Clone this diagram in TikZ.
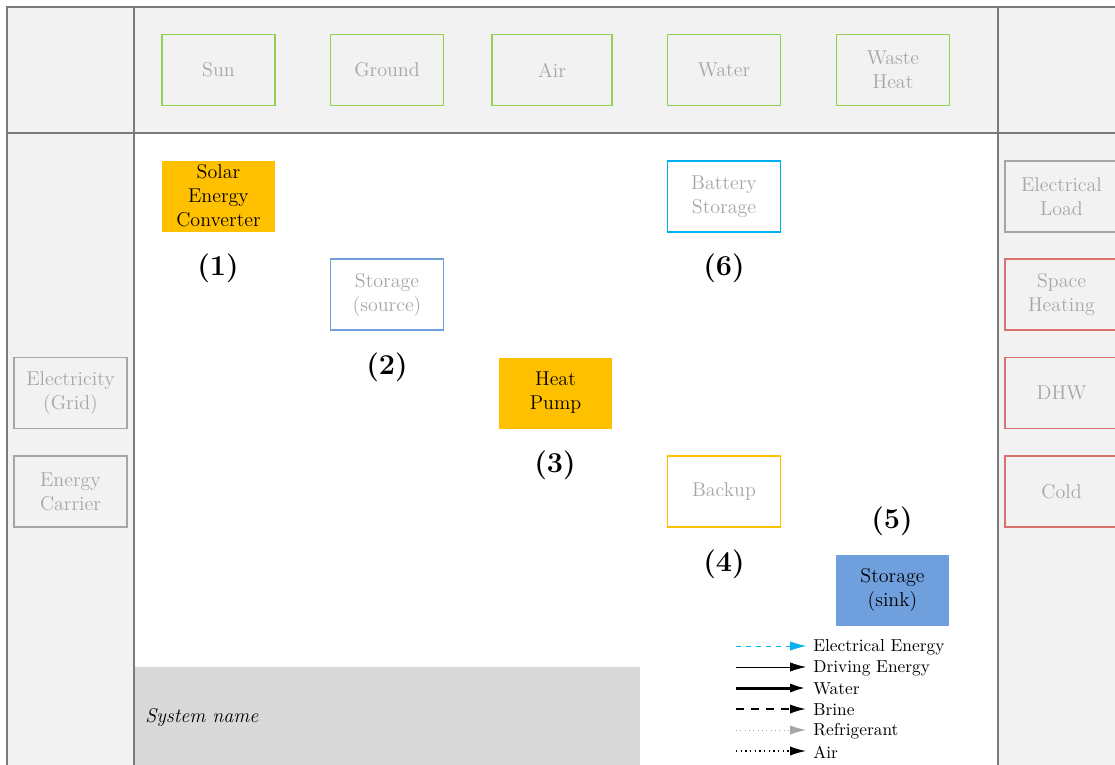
\documentclass[tikz,border=0pt]{standalone}
\usetikzlibrary{arrows.meta}
\definecolor{panel}{HTML}{F2F2F2}
\definecolor{framegray}{HTML}{7A7A7A}
\definecolor{labelgray}{HTML}{A6A6A6}
\definecolor{srcgreen}{HTML}{92D050}
\definecolor{hpyellow}{HTML}{FFC000}
\definecolor{stblue}{HTML}{6F9FDC}
\definecolor{elcyan}{HTML}{00B0F0}
\definecolor{sinkred}{HTML}{D9716C}
\definecolor{namegray}{HTML}{D9D9D9}
\tikzset{
  comp/.style={rectangle, minimum width=67.8pt, minimum height=42.6pt, align=center,
    font=\fontsize{12}{14.4}\selectfont, text=labelgray, line width=1pt, inner sep=1pt},
  source/.style={comp, draw=srcgreen},
  grid/.style={comp, draw=labelgray},
  sink/.style={comp, draw=sinkred},
  active/.style={comp, fill=hpyellow, text=black, draw=none},
  storesrc/.style={comp, draw=stblue},
  storesink/.style={comp, fill=stblue, text=black, draw=none},
  battery/.style={comp, draw=elcyan},
  backup/.style={comp, draw=hpyellow},
  num/.style={font=\LARGE\bfseries},
  tip/.style={-{Latex[length=9.5pt,width=5.5pt]}},
  legtext/.style={anchor=west, font=\fontsize{10.4}{12}\selectfont, inner sep=0pt}
}
\begin{document}
\begin{tikzpicture}[x=0.6pt, y=-0.6pt]
\useasboundingbox (0,0) rectangle (1115,765);
\clip (0,0) rectangle (1115,765);
% panels
\fill[panel] (7,7) rectangle (1140,790);
\fill[white] (134,133) rectangle (998,790);
\fill[namegray] (134,667) rectangle (640,790);
\draw[framegray, line width=0.7pt] (7,790) -- (7,7) -- (1140,7);
\draw[framegray, line width=0.7pt] (7,133) -- (1140,133);
\draw[framegray, line width=0.7pt] (134,7) -- (134,790);
\draw[framegray, line width=0.7pt] (998,7) -- (998,790);
% sources
\node[source] (sun) at (218.5,70) {Sun};
\node[source] (ground) at (387,70) {Ground};
\node[source, minimum width=72pt] (air) at (552,70) {Air};
\node[source] (water) at (724,70) {Water};
\node[source] (waste) at (893,70) {Waste\\Heat};
% grid supply
\node[grid] (elgrid) at (70.5,393) {Electricity\\(Grid)};
\node[grid] (carrier) at (70.5,491.5) {Energy\\Carrier};
% loads
\node[grid] (elload) at (1061.5,196.5) {Electrical\\Load};
\node[sink] (sh) at (1061.5,294.5) {Space\\Heating};
\node[sink] (dhw) at (1061.5,393) {DHW};
\node[sink] (cold) at (1061.5,491.5) {Cold};
% components
\node[active] (solar) at (218.5,196) {Solar\\Energy\\Converter};
\node[storesrc] (stsrc) at (387,294.5) {Storage\\(source)};
\node[active] (hp) at (555.5,393) {Heat\\Pump};
\node[battery] (bat) at (724,196.5) {Battery\\Storage};
\node[backup] (bu) at (724,491.5) {Backup};
\node[storesink] (stsink) at (892.5,590) {Storage\\(sink)};
% numbering
\node[num] (n1) at (218,268) {(1)};
\node[num] (n2) at (387,367) {(2)};
\node[num] (n3) at (555,465) {(3)};
\node[num] (n4) at (724,564) {(4)};
\node[num] (n5) at (892,521) {(5)};
\node[num] (n6) at (724,268) {(6)};
% system name
\node[anchor=west, inner sep=0pt, font=\fontsize{12}{14.4}\itshape] (sysname) at (145,717) {System name};
% legend
\foreach \i/\y in {1/646,2/667,3/688,4/709,5/730,6/751}{
  \coordinate (ls\i) at (736,\y);
  \coordinate (le\i) at (806,\y);
}
\draw[tip, elcyan, dashed, line width=0.4pt] (ls1) -- (le1);
\draw[tip, black, line width=0.4pt] (ls2) -- (le2);
\draw[tip, black, line width=1.8pt] (ls3) -- (le3);
\draw[tip, black, line width=1.1pt, dash pattern=on 5pt off 4pt] (ls4) -- (le4);
\draw[tip, labelgray, dotted, line width=0.6pt] (ls5) -- (le5);
\draw[tip, black, dotted, line width=0.8pt] (ls6) -- (le6);
\node[legtext] (l1) at (813,647) {Electrical Energy};
\node[legtext] (l2) at (813,668) {Driving Energy};
\node[legtext] (l3) at (813,689) {Water};
\node[legtext] (l4) at (813,710) {Brine};
\node[legtext] (l5) at (813,731) {Refrigerant};
\node[legtext] (l6) at (813,752) {Air};
\end{tikzpicture}
\end{document}
